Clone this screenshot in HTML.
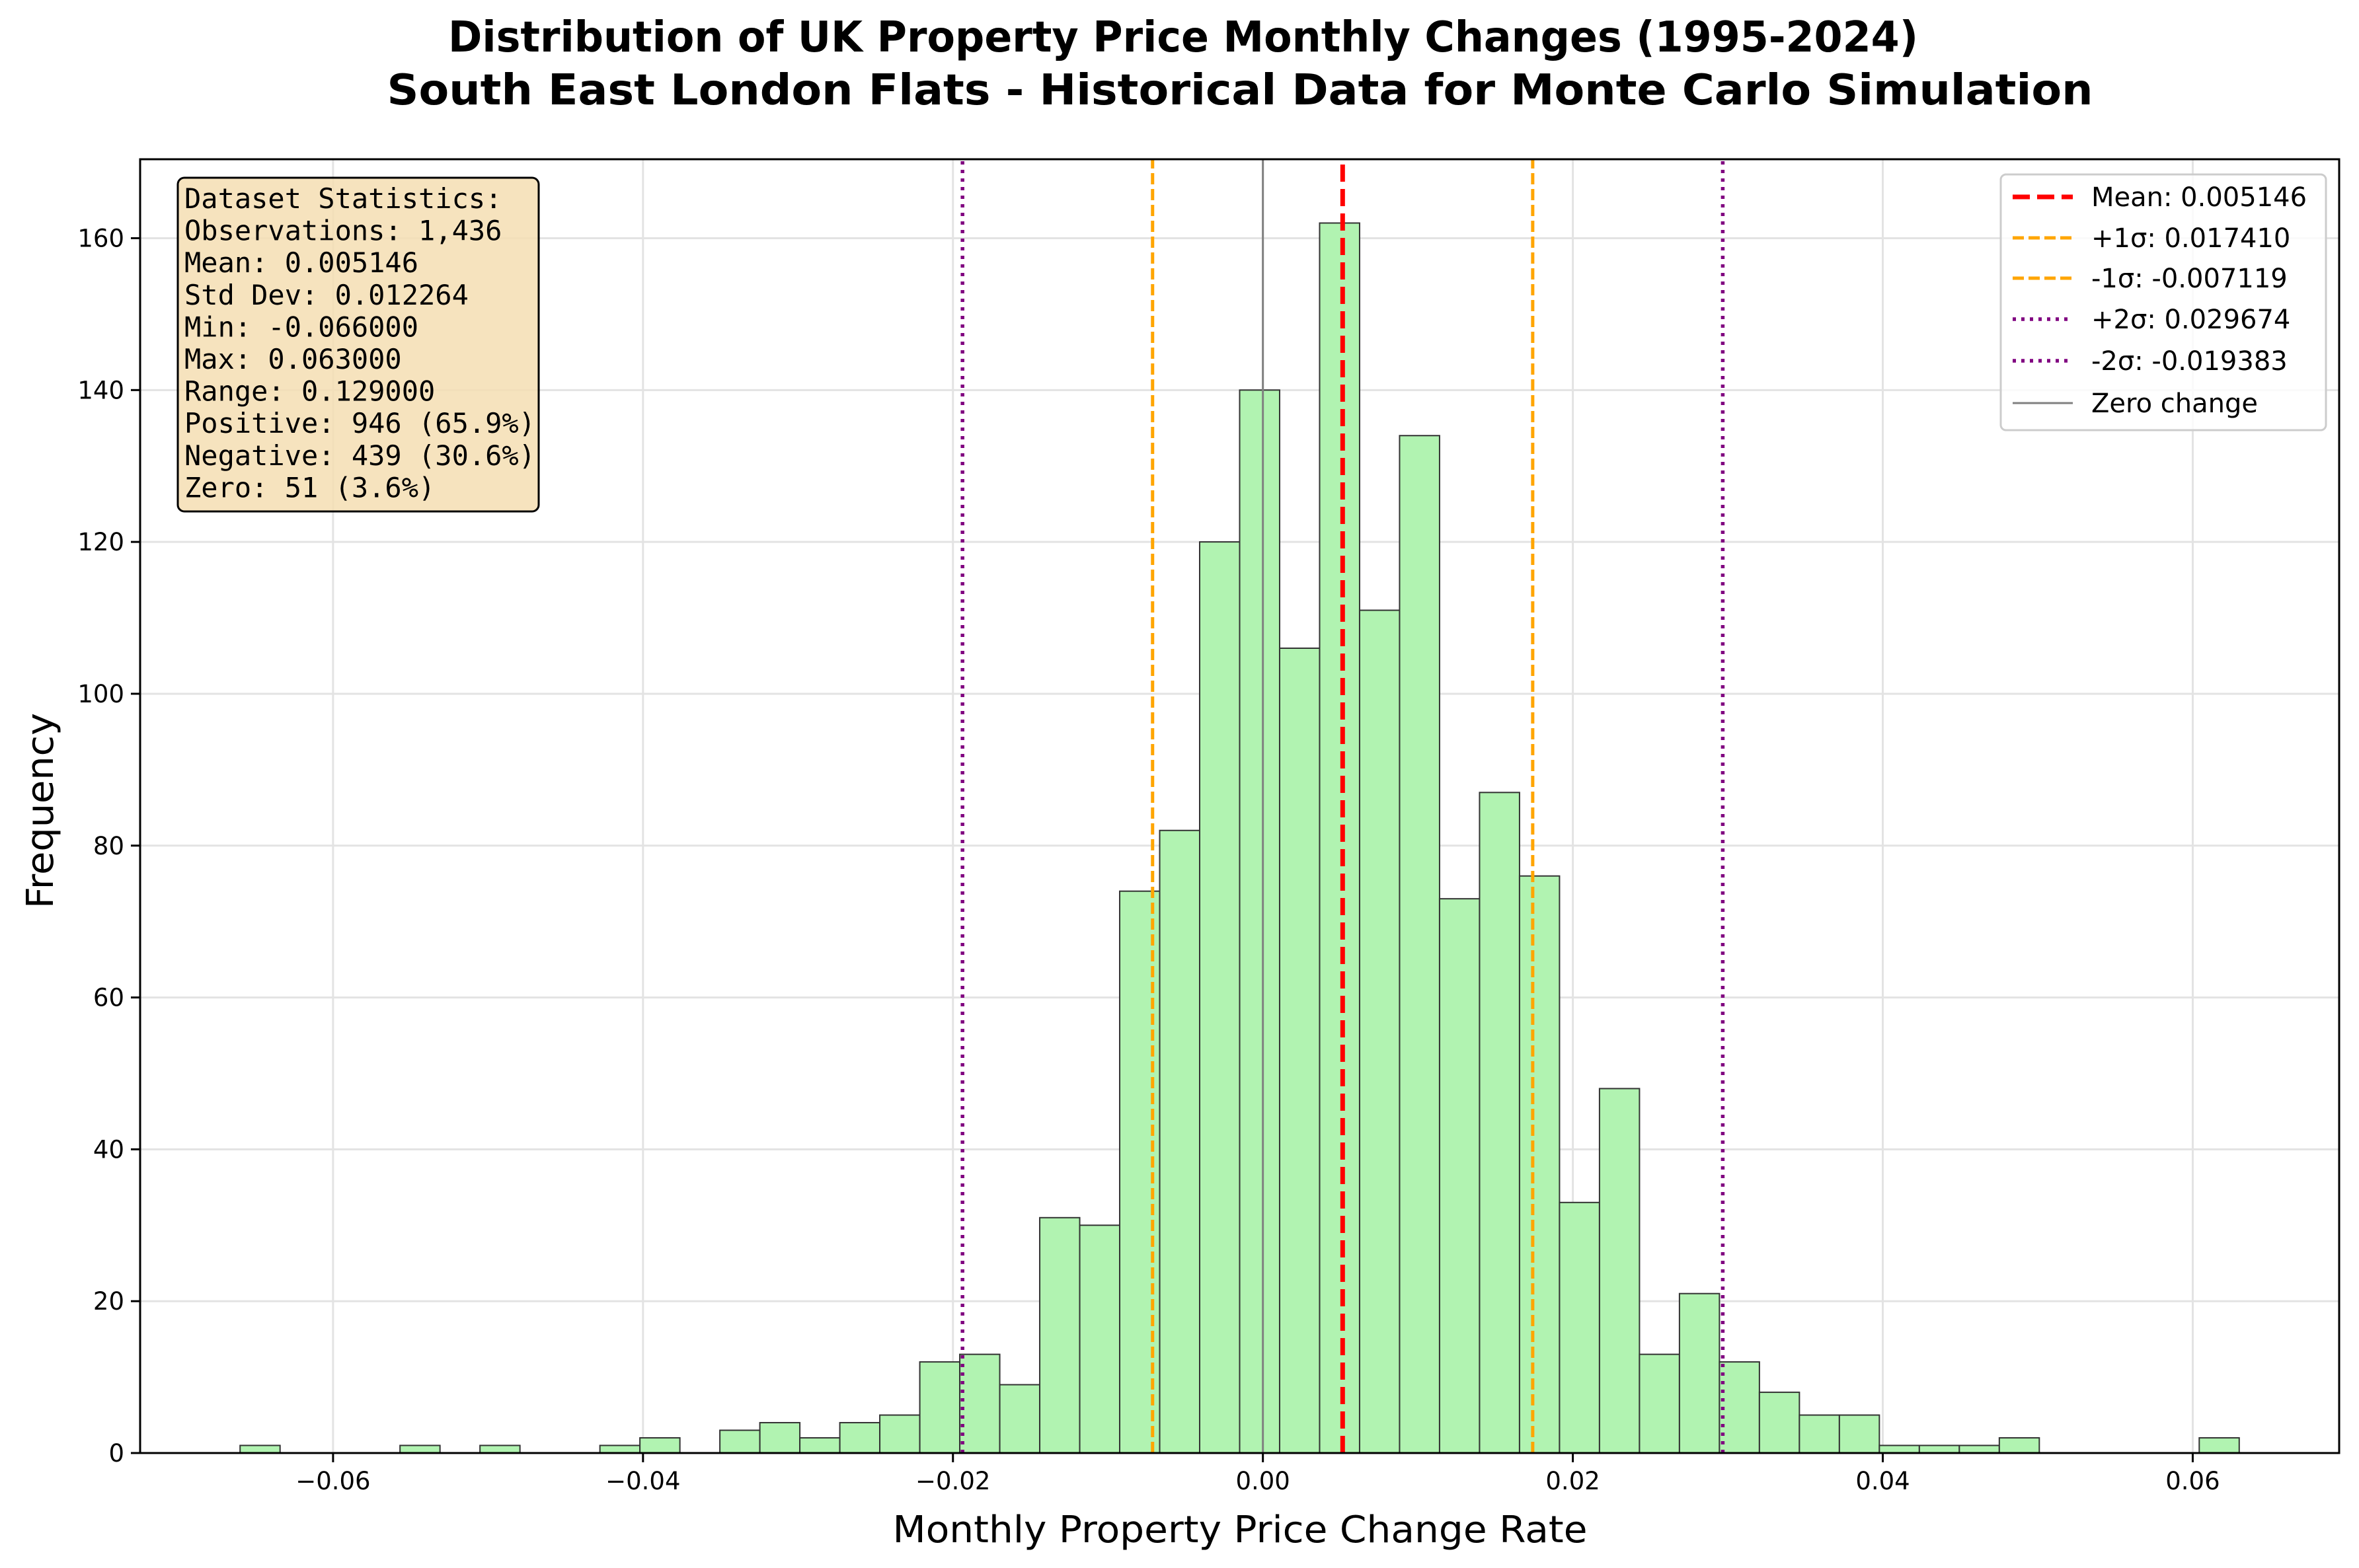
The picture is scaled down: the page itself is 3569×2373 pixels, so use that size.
<!DOCTYPE html>
<html><head><meta charset="utf-8"><style>
html,body{margin:0;padding:0;background:#fff;}
svg{display:block;font-family:"DejaVu Sans","Liberation Sans",sans-serif;}
</style></head><body>
<svg id="chart" width="3569" height="2373" viewBox="0 0 3569 2373" xmlns="http://www.w3.org/2000/svg">
<rect x="0" y="0" width="3569" height="2373" fill="#fff"/>
<text x="1790" y="78" text-anchor="middle" font-size="64" font-weight="bold" textLength="2224" lengthAdjust="spacingAndGlyphs">Distribution of UK Property Price Monthly Changes (1995-2024)</text>
<text x="1876" y="158" text-anchor="middle" font-size="64" font-weight="bold" textLength="2581" lengthAdjust="spacingAndGlyphs">South East London Flats - Historical Data for Monte Carlo Simulation</text>
<g id="grid"></g>
<g id="bars"></g>
<g id="refs"></g>
<rect x="212" y="241" width="3327" height="1958" fill="none" stroke="#000" stroke-width="3"/>
<g id="ticks"></g>
<text x="1876" y="2334" text-anchor="middle" font-size="56" textLength="1051" lengthAdjust="spacingAndGlyphs">Monthly Property Price Change Rate</text>
<text x="0" y="0" transform="translate(80,1227) rotate(-90)" text-anchor="middle" font-size="56" textLength="296" lengthAdjust="spacingAndGlyphs">Frequency</text>
<g>
<rect x="269" y="269" width="546" height="505" rx="10" fill="#f5deb3" fill-opacity="0.85" stroke="#000" stroke-width="3"/>
<g id="statsText" font-family="'DejaVu Sans Mono','Liberation Mono',monospace" font-size="42"></g>
</g>
<g>
<rect x="3027" y="264" width="492" height="387" rx="8" fill="#fff" fill-opacity="0.8" stroke="#ccc" stroke-width="3"/>
<g id="legendItems" font-size="40"></g>
</g>
</svg>
<script>
const binStart = -0.066;
const binWidth = 0.00258;
const counts = [1,0,0,0,1,0,1,0,0,1,2,0,3,4,2,4,5,12,13,9,31,30,74,82,120,140,106,162,111,134,73,87,76,33,48,13,21,12,8,5,5,1,1,1,2,0,0,0,0,2];
const xTicks = [-0.06,-0.04,-0.02,0.0,0.02,0.04,0.06];
const xTickLabels = ["\u22120.06","\u22120.04","\u22120.02","0.00","0.02","0.04","0.06"];
const yTicks = [0,20,40,60,80,100,120,140,160];
const refValues = [0.005146,0.017410,-0.007119,0.029674,-0.019383,0];
const refLabels = ["Mean: 0.005146","+1\u03c3: 0.017410","-1\u03c3: -0.007119","+2\u03c3: 0.029674","-2\u03c3: -0.019383","Zero change"];
const statsLines = ["Dataset Statistics:","Observations: 1,436","Mean: 0.005146","Std Dev: 0.012264","Min: -0.066000","Max: 0.063000","Range: 0.129000","Positive: 946 (65.9%)","Negative: 439 (30.6%)","Zero: 51 (3.6%)"];

const NS="http://www.w3.org/2000/svg";
const L=212,R=3539,T=241,B=2199;
const xMin=-0.07245,xMax=0.06945,yMax=170.4;
const xs=v=>L+(v-xMin)/(xMax-xMin)*(R-L);
const ys=v=>B-v/yMax*(B-T);
function mk(tag,attrs,parent){const e=document.createElementNS(NS,tag);for(const k in attrs)e.setAttribute(k,attrs[k]);parent.appendChild(e);return e;}
const grid=document.getElementById('grid'),bars=document.getElementById('bars'),refs=document.getElementById('refs'),ticks=document.getElementById('ticks');
xTicks.forEach((v,i)=>{
  const g=mk('line',{x1:xs(v),x2:xs(v),y1:T,y2:B,stroke:'#e3e3e3','stroke-width':3},grid);
  
  
  const t=mk('line',{x1:xs(v),x2:xs(v),y1:B,y2:B+14,stroke:'#000','stroke-width':3},ticks);
  
  
  const l=mk('text',{x:xs(v),y:B+55,'text-anchor':'middle','font-size':37},ticks);
  l.textContent=xTickLabels[i];
  
  
});
yTicks.forEach(v=>{
  const g=mk('line',{x1:L,x2:R,y1:ys(v),y2:ys(v),stroke:'#e3e3e3','stroke-width':3},grid);
  
  
  const t=mk('line',{x1:L-14,x2:L,y1:ys(v),y2:ys(v),stroke:'#000','stroke-width':3},ticks);
  
  
  const l=mk('text',{x:L-24,y:ys(v)+13,'text-anchor':'end','font-size':37},ticks);
  l.textContent=String(v);
  
  
});
counts.forEach((c,i)=>{
  if(c<=0)return;
  const x0=xs(binStart+i*binWidth),x1=xs(binStart+(i+1)*binWidth);
  const r=mk('rect',{x:x0,y:ys(c),width:x1-x0,height:ys(0)-ys(c),fill:'#b1f3b1',stroke:'#333','stroke-width':2},bars);
  
  
});
const styles=[
 {c:'#ff0000',w:7,d:'26 11'},
 {c:'#ffa500',w:5,d:'17 7'},
 {c:'#ffa500',w:5,d:'17 7'},
 {c:'#800080',w:5.5,d:'5 8'},
 {c:'#800080',w:5.5,d:'5 8'},
 {c:'#808080',w:3,d:''}];
const order=[5,2,4,1,3,0];
order.forEach(i=>{
  const s=styles[i];
  const ln=mk('line',{x1:xs(refValues[i]),x2:xs(refValues[i]),y1:B,y2:T,stroke:s.c,'stroke-width':s.w},refs);
  if(s.d)ln.setAttribute('stroke-dasharray',s.d);
  
  
});
const leg=document.getElementById('legendItems');
const legY=[298,360,421,483,546,610];
refLabels.forEach((lab,i)=>{
  const s=styles[i];
  const ln=mk('line',{x1:3045,x2:3136,y1:legY[i],y2:legY[i],stroke:s.c,'stroke-width':s.w},leg);
  if(s.d)ln.setAttribute('stroke-dasharray',s.d);
  
  
  const t=mk('text',{x:3164,y:legY[i]+14},leg);
  t.textContent=lab;
  
  
});
const st=document.getElementById('statsText');
statsLines.forEach((s,i)=>{
  const t=mk('text',{x:279,y:315+i*48.6},st);
  t.textContent=s;
  
  
});
</script>
</body></html>
